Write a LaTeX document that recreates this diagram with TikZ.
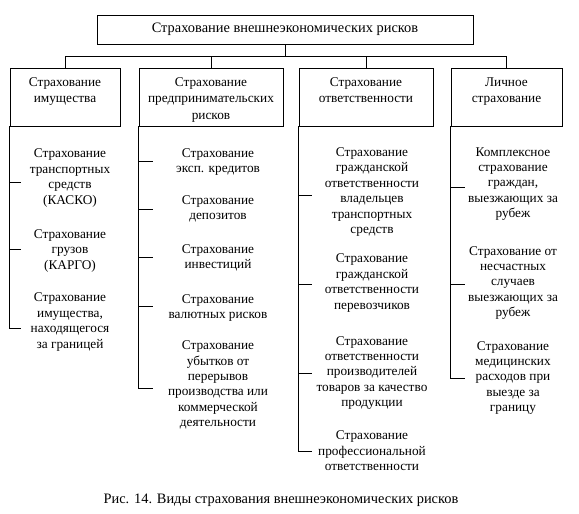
\documentclass[tikz,border=0pt]{standalone}
\usepackage{fontspec}
\setmainfont{Liberation Serif}
\usetikzlibrary{positioning}

\tikzset{
  frame/.style={draw,line width=0.8pt,inner sep=0pt},
  head/.style={align=center,inner sep=0pt,font=\fontsize{13.3}{16.3}\selectfont},
  big/.style={align=center,inner sep=0pt,font=\fontsize{14.4}{16.5}\selectfont},
  item/.style={align=center,inner sep=0pt,font=\fontsize{13.3}{15.4}\selectfont},
  link/.style={line width=0.8pt}
}

\begin{document}
\begin{tikzpicture}[x=1pt,y=-1pt]
        \useasboundingbox (0,0) rectangle (579,514);
        % top box and the four groups
        \node[frame,minimum width=376,minimum height=29] (vsego) at (285,29.5) {};
        \node[big] (vsegot) at (vsego) {Страхование внешнеэкономических рисков};
        \node[frame,minimum width=110,minimum height=58] (imush) at (65,97) {};
        \node[frame,minimum width=144,minimum height=58] (predpr) at (211,97) {};
        \node[frame,minimum width=134,minimum height=58] (otvet) at (366,97) {};
        \node[frame,minimum width=111,minimum height=58] (lichn) at (506.5,97) {};
        \node[head,below=10pt of imush.north] (imusht) {Страхование\\имущества};
        \node[head,below=10pt of predpr.north] (predprt) {Страхование\\предпринимательских\\рисков};
        \node[head,below=10pt of otvet.north] (otvett) {Страхование\\ответственности};
        \node[head,below=10pt of lichn.north] (lichnt) {Личное\\страхование};
        \coordinate (bus) at (285,56);
        \draw[link] (vsego.south) -- (bus);
        \draw[link] (imush.north) |- (bus);
        \draw[link] (predpr.north) |- (bus);
        \draw[link] (otvet.north) |- (bus);
        \draw[link] (lichn.north) |- (bus);
        % property
        \node[item] (kasko) at (70,178) {Страхование\\транспортных\\средств\\(КАСКО)};
        \node[item] (kargo) at (70,251) {Страхование\\грузов\\(КАРГО)};
        \node[item] (zagran) at (70,322) {Страхование\\имущества,\\находящегося\\за границей};
        \coordinate (i1) at (21,182);
        \coordinate (i2) at (21,249);
        \coordinate (i3) at (21,328);
        \draw[link] (imush.south west) |- (i3);
        \draw[link] (imush.south west |- i1) -- (i1);
        \draw[link] (imush.south west |- i2) -- (i2);
        % business risks
        \node[item] (kredit) at (218,162) {Страхование\\эксп. кредитов};
        \node[item] (depoz) at (218,209) {Страхование\\депозитов};
        \node[item] (invest) at (218,258) {Страхование\\инвестиций};
        \node[item] (valut) at (218,308) {Страхование\\валютных рисков};
        \node[item] (ubyt) at (218,385) {Страхование\\убытков от\\перерывов\\производства или\\коммерческой\\деятельности};
        \coordinate (p1) at (153,161);
        \coordinate (p2) at (153,209);
        \coordinate (p3) at (153,257);
        \coordinate (p4) at (153,306);
        \coordinate (p5) at (153,388);
        \draw[link] (predpr.south west) |- (p5);
        \draw[link] (predpr.south west |- p1) -- (p1);
        \draw[link] (predpr.south west |- p2) -- (p2);
        \draw[link] (predpr.south west |- p3) -- (p3);
        \draw[link] (predpr.south west |- p4) -- (p4);
        % liability
        \node[item] (vladel) at (372,192) {Страхование\\гражданской\\ответственности\\владельцев\\транспортных\\средств};
        \node[item] (perevoz) at (372,283) {Страхование\\гражданской\\ответственности\\перевозчиков};
        \node[item] (proizv) at (372,373) {Страхование\\ответственности\\производителей\\товаров за качество\\продукции};
        \node[item] (prof) at (372,451) {Страхование\\профессиональной\\ответственности};
        \coordinate (o1) at (312,195);
        \coordinate (o2) at (312,284);
        \coordinate (o3) at (312,373);
        \coordinate (o4) at (312,451);
        \draw[link] (otvet.south west) |- (o4);
        \draw[link] (otvet.south west |- o1) -- (o1);
        \draw[link] (otvet.south west |- o2) -- (o2);
        \draw[link] (otvet.south west |- o3) -- (o3);
        % personal
        \node[item] (komplex) at (513,184) {Комплексное\\страхование\\граждан,\\выезжающих за\\рубеж};
        \node[item] (neschast) at (513,283) {Страхование от\\несчастных\\случаев\\выезжающих за\\рубеж};
        \node[item] (medic) at (513,378) {Страхование\\медицинских\\расходов при\\выезде за\\границу};
        \coordinate (l1) at (465,187);
        \coordinate (l2) at (465,284);
        \coordinate (l3) at (465,378);
        \draw[link] (lichn.south west) |- (l3);
        \draw[link] (lichn.south west |- l1) -- (l1);
        \draw[link] (lichn.south west |- l2) -- (l2);
        % caption
        \node[big] (podpis) at (281,500) {Рис. 14. Виды страхования внешнеэкономических рисков};
\end{tikzpicture}
\end{document}
